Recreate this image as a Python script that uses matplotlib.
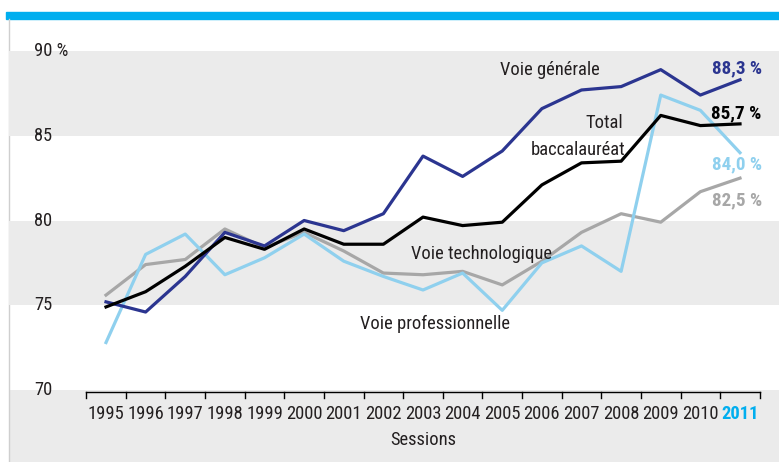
import matplotlib.pyplot as plt
import numpy as np

years = list(range(1995, 2012))
generale = [75.2, 74.6, 76.7, 79.3, 78.5, 80.0, 79.4, 80.4, 83.8, 82.6, 84.1, 86.6, 87.7, 87.9, 88.9, 87.4, 88.3]
total = [74.9, 75.8, 77.3, 79.0, 78.3, 79.5, 78.6, 78.6, 80.2, 79.7, 79.9, 82.1, 83.4, 83.5, 86.2, 85.6, 85.7]
techno = [75.6, 77.4, 77.7, 79.5, 78.4, 79.3, 78.2, 76.9, 76.8, 77.0, 76.2, 77.6, 79.3, 80.4, 79.9, 81.7, 82.5]
pro = [72.8, 78.0, 79.2, 76.8, 77.8, 79.2, 77.6, 76.7, 75.9, 76.9, 74.7, 77.5, 78.5, 77.0, 87.4, 86.5, 84.0]
yticks = [70, 75, 80, 85, 90]
ytick_labels = ['70', '75', '80', '85', '90 %']

DARK = '#2b3590'
LIGHT = '#8fd0ee'
GREY = '#a7a7a7'
CYAN = '#00aeef'
BAND = '#ebebeb'
TXT = '#231f20'

plt.rcParams['font.family'] = ['Roboto Condensed', 'Archivo Narrow', 'PT Sans Narrow',
                               'Liberation Sans Narrow', 'DejaVu Sans']

W, H = 779, 462
fig = plt.figure(figsize=(W / 100, H / 100), dpi=100)

# pixel helpers (from top-left corner)
def fx(px):
    return px / W

def fy(py):
    return 1 - py / H

# top blue bar, grey band under the plot, left rule
fig.patches.append(plt.Rectangle((fx(6), fy(19)), 1, 7 / H, transform=fig.transFigure,
                                 color=CYAN, zorder=-2))
fig.patches.append(plt.Rectangle((fx(9), 0), 1, fy(390), transform=fig.transFigure,
                                 color=BAND, zorder=-2, lw=0))
fig.lines.append(plt.Line2D([fx(9), fx(9)], [0, fy(19)], transform=fig.transFigure,
                            color='#cfcfcf', lw=1, zorder=-1))

ax = fig.add_axes([fx(9), fy(390), 1 - fx(9), (390 - 51) / H])
ax.set_facecolor('none')
px_per_year = (740 - 106) / 16
ax.set_xlim(1995 - 97 / px_per_year, 2011 + 39 / px_per_year)
ax.set_ylim(70, 90)
for lo in (75, 85):
    ax.axhspan(lo, lo + 5, color=BAND, zorder=0, lw=0)
for s in ax.spines.values():
    s.set_visible(False)
ax.set_xticks([])
ax.set_yticks([])

lw = 2.3
ax.plot(years, techno, color=GREY, lw=lw, zorder=2)
ax.plot(years, pro, color=LIGHT, lw=lw, zorder=3)
ax.plot(years, generale, color=DARK, lw=lw, zorder=4)
ax.plot(years, total, color='black', lw=lw, zorder=5)

fs = 13.3
# y labels, drawn inside the plot area
ylab_x = (34 - 9) / (W - 9)
for v, lab in zip(yticks, ytick_labels):
    ax.text(ylab_x, v, lab, transform=ax.get_yaxis_transform(), fontsize=fs, color=TXT,
            va='center', ha='left', clip_on=False)

# x axis line and ticks
edges = np.arange(1994.5, 2012, 1)
ax.plot([edges[0], edges[-1]], [69.9, 69.9], color='black', lw=1, clip_on=False, zorder=6)
for e in edges:
    ax.plot([e, e], [69.9, 69.55], color='black', lw=1, clip_on=False, zorder=6)
for y in years:
    bold = y == 2011
    ax.text(y, 68.6, str(y), ha='center', va='center', fontsize=fs,
            color=CYAN if bold else TXT, fontweight='bold' if bold else 'normal', clip_on=False)
ax.text(2003, 67.05, 'Sessions', ha='center', va='center', fontsize=fs, color=TXT, clip_on=False)

# series labels
ax.text(2006.2, 88.9, 'Voie générale', fontsize=fs, color=TXT, ha='center', va='center')
ax.text(2008.05, 85.75, 'Total', fontsize=fs, color=TXT, ha='right', va='center')
ax.text(2008.1, 84.15, 'baccalauréat', fontsize=fs, color=TXT, ha='right', va='center')
ax.text(2004.48, 78.05, 'Voie technologique', fontsize=fs, color=TXT, ha='center', va='center')
ax.text(2003.3, 73.9, 'Voie professionnelle', fontsize=fs, color=TXT, ha='center', va='center')

# end values
ends = [(generale[-1], 89.0, DARK), (total[-1], 86.3, 'black'), (pro[-1], 83.3, LIGHT),
        (techno[-1], 81.2, GREY)]
for v, ypos, c in ends:
    ax.text(2011.55, ypos, f'{v:.1f} %'.replace('.', ','), fontsize=fs + 0.5, color=c,
            fontweight='bold', ha='right', va='center', clip_on=False)

fig.savefig('out.png', dpi=100)
